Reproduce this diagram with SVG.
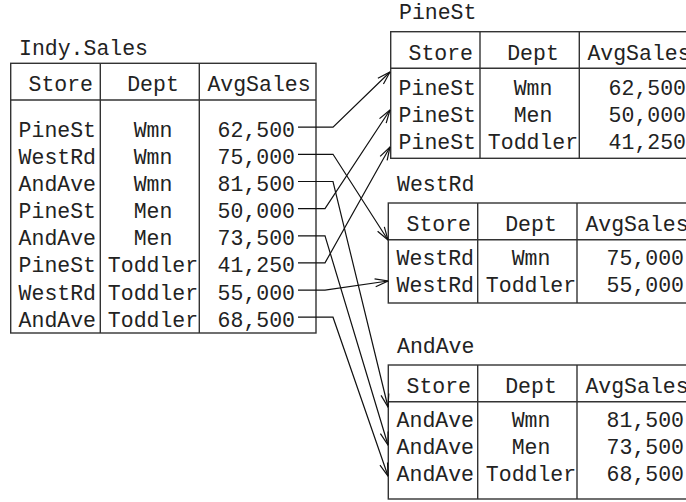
<svg xmlns="http://www.w3.org/2000/svg" width="686" height="502" viewBox="0 0 686 502">
<style>
text{font-family:"Liberation Mono","DejaVu Sans Mono",monospace;font-size:21.5px;fill:#222}
.e{text-anchor:end}
.m{text-anchor:middle}
.box{fill:none;stroke:#333;stroke-width:1.4}
.conn path{fill:none;stroke:#111;stroke-width:1.2}
</style>
<defs>
<marker id="ah" viewBox="0 0 14 10" refX="13.5" refY="5" markerWidth="14" markerHeight="10" markerUnits="userSpaceOnUse" orient="auto">
<path d="M0.5,1 L13.5,5 L0.5,9" fill="none" stroke="#111" stroke-width="1.2"/>
</marker>
</defs>

<g id="indy-sales">
<text x="19" y="55">Indy.Sales</text>
<rect class="box" x="10.7" y="63.3" width="305.3" height="269.7"/>
<line class="box" x1="10.7" y1="100" x2="316" y2="100"/>
<line class="box" x1="100.3" y1="63.3" x2="100.3" y2="333"/>
<line class="box" x1="199.3" y1="63.3" x2="199.3" y2="333"/>
<text class="e" x="93" y="91">Store</text>
<text class="m" x="153" y="91">Dept</text>
<text class="m" x="259" y="91">AvgSales</text>
<g>
<text class="e" x="96" y="136.7">PineSt</text><text class="m" x="153" y="136.7">Wmn</text><text class="e" x="295" y="136.7">62,500</text>
<text class="e" x="96" y="163.8">WestRd</text><text class="m" x="153" y="163.8">Wmn</text><text class="e" x="295" y="163.8">75,000</text>
<text class="e" x="96" y="191">AndAve</text><text class="m" x="153" y="191">Wmn</text><text class="e" x="295" y="191">81,500</text>
<text class="e" x="96" y="218.1">PineSt</text><text class="m" x="153" y="218.1">Men</text><text class="e" x="295" y="218.1">50,000</text>
<text class="e" x="96" y="245.3">AndAve</text><text class="m" x="153" y="245.3">Men</text><text class="e" x="295" y="245.3">73,500</text>
<text class="e" x="96" y="272.4">PineSt</text><text class="m" x="153" y="272.4">Toddler</text><text class="e" x="295" y="272.4">41,250</text>
<text class="e" x="96" y="299.6">WestRd</text><text class="m" x="153" y="299.6">Toddler</text><text class="e" x="295" y="299.6">55,000</text>
<text class="e" x="96" y="326.7">AndAve</text><text class="m" x="153" y="326.7">Toddler</text><text class="e" x="295" y="326.7">68,500</text>
</g>
</g>

<g id="pinest">
<text x="399" y="19">PineSt</text>
<rect class="box" x="390.7" y="31.7" width="310" height="126.6"/>
<line class="box" x1="390.7" y1="68.3" x2="700" y2="68.3"/>
<line class="box" x1="480" y1="31.7" x2="480" y2="158.3"/>
<line class="box" x1="579.3" y1="31.7" x2="579.3" y2="158.3"/>
<text class="e" x="473" y="59.5">Store</text>
<text class="m" x="533" y="59.5">Dept</text>
<text class="m" x="639" y="59.5">AvgSales</text>
<text class="e" x="476" y="94.7">PineSt</text><text class="m" x="533" y="94.7">Wmn</text><text class="e" x="686" y="94.7">62,500</text>
<text class="e" x="476" y="121.8">PineSt</text><text class="m" x="533" y="121.8">Men</text><text class="e" x="686" y="121.8">50,000</text>
<text class="e" x="476" y="149">PineSt</text><text class="m" x="533" y="149">Toddler</text><text class="e" x="686" y="149">41,250</text>
</g>

<g id="westrd">
<text x="397" y="191">WestRd</text>
<rect class="box" x="388.3" y="203" width="310" height="100"/>
<line class="box" x1="388.3" y1="239.7" x2="700" y2="239.7"/>
<line class="box" x1="477.7" y1="203" x2="477.7" y2="303"/>
<line class="box" x1="577" y1="203" x2="577" y2="303"/>
<text class="e" x="471" y="231">Store</text>
<text class="m" x="531" y="231">Dept</text>
<text class="m" x="637" y="231">AvgSales</text>
<text class="e" x="474" y="264.7">WestRd</text><text class="m" x="531" y="264.7">Wmn</text><text class="e" x="684" y="264.7">75,000</text>
<text class="e" x="474" y="291.8">WestRd</text><text class="m" x="531" y="291.8">Toddler</text><text class="e" x="684" y="291.8">55,000</text>
</g>

<g id="andave">
<text x="397" y="353">AndAve</text>
<rect class="box" x="388.3" y="365" width="310" height="134"/>
<line class="box" x1="388.3" y1="401.7" x2="700" y2="401.7"/>
<line class="box" x1="477.7" y1="365" x2="477.7" y2="499"/>
<line class="box" x1="577" y1="365" x2="577" y2="499"/>
<text class="e" x="471" y="393">Store</text>
<text class="m" x="531" y="393">Dept</text>
<text class="m" x="637" y="393">AvgSales</text>
<text class="e" x="474" y="427">AndAve</text><text class="m" x="531" y="427">Wmn</text><text class="e" x="684" y="427">81,500</text>
<text class="e" x="474" y="454.1">AndAve</text><text class="m" x="531" y="454.1">Men</text><text class="e" x="684" y="454.1">73,500</text>
<text class="e" x="474" y="481.3">AndAve</text><text class="m" x="531" y="481.3">Toddler</text><text class="e" x="684" y="481.3">68,500</text>
</g>

<g id="connectors" class="conn">
<path d="M298,127.2 H333 L390,72" marker-end="url(#ah)"/>
<path d="M298,154.3 H333 L388,240" marker-end="url(#ah)"/>
<path d="M298,181.5 H333 L388,407" marker-end="url(#ah)"/>
<path d="M298,208.6 H325 L390,110" marker-end="url(#ah)"/>
<path d="M298,235.8 H325 L388,445" marker-end="url(#ah)"/>
<path d="M298,262.9 H325 L390,147" marker-end="url(#ah)"/>
<path d="M298,290.1 H325 L388,281" marker-end="url(#ah)"/>
<path d="M298,317.2 H333 L388,476" marker-end="url(#ah)"/>
</g>
</svg>
